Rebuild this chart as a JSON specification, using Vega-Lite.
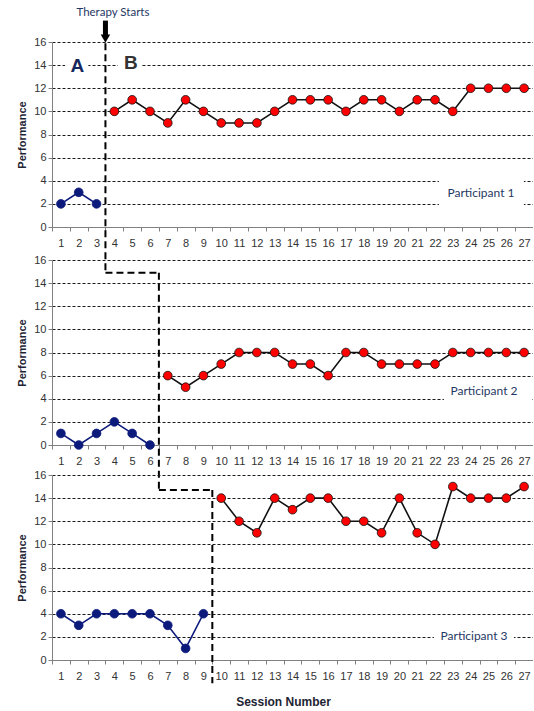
{
  "$schema": "https://vega.github.io/schema/vega-lite/v6.json",
  "padding": {"left": 16, "top": 6, "right": 0, "bottom": 0},
  "background": "white",
  "config": {
    "view": {"stroke": null},
    "font": "Liberation Sans",
    "axis": {
      "labelFont": "Liberation Sans", "labelFontSize": 11, "labelColor": "#333333",
      "titleFont": "Liberation Sans", "titleFontSize": 11, "titleFontWeight": "bold", "titleColor": "#1e2433",
      "domainColor": "#808080", "tickColor": "#808080", "tickSize": 4, "zindex": 0
    }
  },
  "datasets": {
    "p1": [
      {"session":1,"value":2,"phase":"A"},{"session":2,"value":3,"phase":"A"},{"session":3,"value":2,"phase":"A"},
      {"session":4,"value":10,"phase":"B"},{"session":5,"value":11,"phase":"B"},{"session":6,"value":10,"phase":"B"},
      {"session":7,"value":9,"phase":"B"},{"session":8,"value":11,"phase":"B"},{"session":9,"value":10,"phase":"B"},
      {"session":10,"value":9,"phase":"B"},{"session":11,"value":9,"phase":"B"},{"session":12,"value":9,"phase":"B"},
      {"session":13,"value":10,"phase":"B"},{"session":14,"value":11,"phase":"B"},{"session":15,"value":11,"phase":"B"},
      {"session":16,"value":11,"phase":"B"},{"session":17,"value":10,"phase":"B"},{"session":18,"value":11,"phase":"B"},
      {"session":19,"value":11,"phase":"B"},{"session":20,"value":10,"phase":"B"},{"session":21,"value":11,"phase":"B"},
      {"session":22,"value":11,"phase":"B"},{"session":23,"value":10,"phase":"B"},{"session":24,"value":12,"phase":"B"},
      {"session":25,"value":12,"phase":"B"},{"session":26,"value":12,"phase":"B"},{"session":27,"value":12,"phase":"B"}
    ],
    "p2": [
      {"session":1,"value":1,"phase":"A"},{"session":2,"value":0,"phase":"A"},{"session":3,"value":1,"phase":"A"},
      {"session":4,"value":2,"phase":"A"},{"session":5,"value":1,"phase":"A"},{"session":6,"value":0,"phase":"A"},
      {"session":7,"value":6,"phase":"B"},{"session":8,"value":5,"phase":"B"},{"session":9,"value":6,"phase":"B"},
      {"session":10,"value":7,"phase":"B"},{"session":11,"value":8,"phase":"B"},{"session":12,"value":8,"phase":"B"},
      {"session":13,"value":8,"phase":"B"},{"session":14,"value":7,"phase":"B"},{"session":15,"value":7,"phase":"B"},
      {"session":16,"value":6,"phase":"B"},{"session":17,"value":8,"phase":"B"},{"session":18,"value":8,"phase":"B"},
      {"session":19,"value":7,"phase":"B"},{"session":20,"value":7,"phase":"B"},{"session":21,"value":7,"phase":"B"},
      {"session":22,"value":7,"phase":"B"},{"session":23,"value":8,"phase":"B"},{"session":24,"value":8,"phase":"B"},
      {"session":25,"value":8,"phase":"B"},{"session":26,"value":8,"phase":"B"},{"session":27,"value":8,"phase":"B"}
    ],
    "p3": [
      {"session":1,"value":4,"phase":"A"},{"session":2,"value":3,"phase":"A"},{"session":3,"value":4,"phase":"A"},
      {"session":4,"value":4,"phase":"A"},{"session":5,"value":4,"phase":"A"},{"session":6,"value":4,"phase":"A"},
      {"session":7,"value":3,"phase":"A"},{"session":8,"value":1,"phase":"A"},{"session":9,"value":4,"phase":"A"},
      {"session":10,"value":14,"phase":"B"},{"session":11,"value":12,"phase":"B"},{"session":12,"value":11,"phase":"B"},
      {"session":13,"value":14,"phase":"B"},{"session":14,"value":13,"phase":"B"},{"session":15,"value":14,"phase":"B"},
      {"session":16,"value":14,"phase":"B"},{"session":17,"value":12,"phase":"B"},{"session":18,"value":12,"phase":"B"},
      {"session":19,"value":11,"phase":"B"},{"session":20,"value":14,"phase":"B"},{"session":21,"value":11,"phase":"B"},
      {"session":22,"value":10,"phase":"B"},{"session":23,"value":15,"phase":"B"},{"session":24,"value":14,"phase":"B"},
      {"session":25,"value":14,"phase":"B"},{"session":26,"value":14,"phase":"B"},{"session":27,"value":15,"phase":"B"}
    ]
  },
  "bounds": "flush",
  "spacing": 33,
  "vconcat": [
    {
      "width": 481, "height": 185,
      "data": {"name": "p1"},
      "encoding": {
        "x": {"field": "session", "type": "quantitative", "scale": {"domain": [0.5, 27.5], "nice": false, "zero": false},
              "axis": {"values": [1,2,3,4,5,6,7,8,9,10,11,12,13,14,15,16,17,18,19,20,21,22,23,24,25,26,27], "tickOffset": -8.907, "labelOffset": 8.907, "grid": false, "title": null, "labelOverlap": false, "labelFlush": false, "labelPadding": 6}},
        "y": {"field": "value", "type": "quantitative", "scale": {"domain": [0, 16], "nice": false},
              "axis": {"values": [0,2,4,6,8,10,12,14,16], "title": "Performance", "grid": true, "gridDash": [3,2], "gridColor": "#1a1a1a", "labelPadding": 2, "titlePadding": 6}}
      },
      "layer": [
        {"data": {"values": [{"session": 22.22, "session2": 26.99, "value": 4.3, "value2": 1.54}, {"session": 1.24, "session2": 2.54, "value": 14.68, "value2": 13.12}, {"session": 4.2, "session2": 5.55, "value": 14.9, "value2": 13.4}]},
         "mark": {"type": "rect", "fill": "white"},
         "encoding": {"x2": {"field": "session2"}, "y2": {"field": "value2"}}},
        {"data": {"values": [{"session": 3.5, "session2": 3.5, "value": 15.9, "value2": -3.95}]},
         "mark": {"type": "rule", "stroke": "black", "strokeWidth": 2, "strokeDash": [7, 4]},
         "encoding": {"x2": {"field": "session2"}, "y2": {"field": "value2"}}},
        {"mark": {"type": "line", "strokeWidth": 1.6},
         "encoding": {"detail": {"field": "phase"}, "stroke": {"field": "phase", "scale": {"domain": ["A", "B"], "range": ["#0c1a7c", "#111111"]}, "legend": null}}},
        {"mark": {"type": "point", "filled": true, "size": 76, "opacity": 1, "strokeWidth": 0.8, "shape": "circle"},
         "encoding": {"fill": {"field": "phase", "scale": {"domain": ["A", "B"], "range": ["#0c1a7c", "#ff0000"]}, "legend": null},
                      "stroke": {"field": "phase", "legend": null}}},
        {"data": {"values": [{"session": 24.58, "value": 2.91, "label": "Participant 1"}]},
         "mark": {"type": "text", "font": "Lato", "fontSize": 12, "fill": "#1f3864"},
         "encoding": {"text": {"field": "label"}}},
        {"data": {"values": [{"session": 1.92, "value": 13.92, "label": "A"}]},
         "mark": {"type": "text", "font": "Liberation Sans", "fontSize": 19, "fontWeight": "bold", "fill": "#15275c"},
         "encoding": {"text": {"field": "label"}}},
        {"data": {"values": [{"session": 4.93, "value": 14.22, "label": "B"}]},
         "mark": {"type": "text", "font": "Liberation Sans", "fontSize": 19, "fontWeight": "bold", "fill": "#333333"},
         "encoding": {"text": {"field": "label"}}},
        {"data": {"values": [{"session": 3.92, "value": 18.54, "label": "Therapy Starts"}]},
         "mark": {"type": "text", "font": "Lato", "fontSize": 11.5, "fill": "#1f3864"},
         "encoding": {"text": {"field": "label"}}},
        {"data": {"values": [{"session": 3.5, "value": 17.85, "value2": 16.5}]},
         "mark": {"type": "rule", "stroke": "black", "strokeWidth": 5},
         "encoding": {"y2": {"field": "value2"}}},
        {"data": {"values": [{"session": 3.5, "value": 16.3}]},
         "mark": {"type": "point", "shape": "triangle-down", "filled": true, "fill": "black", "size": 90, "opacity": 1}}
      ]
    },
    {
      "bounds": "flush",
      "spacing": 30,
      "vconcat": [
        {
          "width": 481, "height": 185,
          "data": {"name": "p2"},
          "encoding": {
            "x": {"field": "session", "type": "quantitative", "scale": {"domain": [0.5, 27.5], "nice": false, "zero": false},
                  "axis": {"values": [1,2,3,4,5,6,7,8,9,10,11,12,13,14,15,16,17,18,19,20,21,22,23,24,25,26,27], "tickOffset": -8.907, "labelOffset": 8.907, "grid": false, "title": null, "labelOverlap": false, "labelFlush": false, "labelPadding": 6}},
            "y": {"field": "value", "type": "quantitative", "scale": {"domain": [0, 16], "nice": false},
                  "axis": {"values": [0,2,4,6,8,10,12,14,16], "title": "Performance", "grid": true, "gridDash": [3,2], "gridColor": "#1a1a1a", "labelPadding": 2, "titlePadding": 6}}
          },
          "layer": [
            {"data": {"values": [{"session": 22.5, "session2": 27.4, "value": 5.51, "value2": 2.74}]},
             "mark": {"type": "rect", "fill": "white"},
             "encoding": {"x2": {"field": "session2"}, "y2": {"field": "value2"}}},
            {"data": {"values": [{"session": 3.5, "session2": 6.5, "value": 14.9, "value2": 14.9}, {"session": 6.5, "session2": 6.5, "value": 14.9, "value2": -3.89}]},
             "mark": {"type": "rule", "stroke": "black", "strokeWidth": 2, "strokeDash": [7, 4]},
             "encoding": {"x2": {"field": "session2"}, "y2": {"field": "value2"}}},
            {"mark": {"type": "line", "strokeWidth": 1.6},
             "encoding": {"detail": {"field": "phase"}, "stroke": {"field": "phase", "scale": {"domain": ["A", "B"], "range": ["#0c1a7c", "#111111"]}, "legend": null}}},
            {"mark": {"type": "point", "filled": true, "size": 76, "opacity": 1, "strokeWidth": 0.8, "shape": "circle"},
             "encoding": {"fill": {"field": "phase", "scale": {"domain": ["A", "B"], "range": ["#0c1a7c", "#ff0000"]}, "legend": null},
                          "stroke": {"field": "phase", "legend": null}}},
            {"data": {"values": [{"session": 24.75, "value": 4.67, "label": "Participant 2"}]},
             "mark": {"type": "text", "font": "Lato", "fontSize": 12, "fill": "#1f3864"},
             "encoding": {"text": {"field": "label"}}}
          ]
        },
        {
          "width": 481, "height": 185,
          "data": {"name": "p3"},
          "encoding": {
            "x": {"field": "session", "type": "quantitative", "scale": {"domain": [0.5, 27.5], "nice": false, "zero": false},
                  "axis": {"values": [1,2,3,4,5,6,7,8,9,10,11,12,13,14,15,16,17,18,19,20,21,22,23,24,25,26,27], "tickOffset": -8.907, "labelOffset": 8.907, "grid": false, "title": "Session Number", "titleFontSize": 12, "titleX": 231, "titlePadding": 15, "labelOverlap": false, "labelFlush": false, "labelPadding": 6}},
            "y": {"field": "value", "type": "quantitative", "scale": {"domain": [0, 16], "nice": false},
                  "axis": {"values": [0,2,4,6,8,10,12,14,16], "title": "Performance", "grid": true, "gridDash": [3,2], "gridColor": "#1a1a1a", "labelPadding": 2, "titlePadding": 6}}
          },
          "layer": [
            {"data": {"values": [{"session": 21.94, "session2": 26.43, "value": 3.17, "value2": 0.83}]},
             "mark": {"type": "rect", "fill": "white"},
             "encoding": {"x2": {"field": "session2"}, "y2": {"field": "value2"}}},
            {"data": {"values": [{"session": 6.5, "session2": 9.5, "value": 14.7, "value2": 14.7}, {"session": 9.5, "session2": 9.5, "value": 14.7, "value2": -2.0}]},
             "mark": {"type": "rule", "stroke": "black", "strokeWidth": 2, "strokeDash": [7, 4]},
             "encoding": {"x2": {"field": "session2"}, "y2": {"field": "value2"}}},
            {"mark": {"type": "line", "strokeWidth": 1.6},
             "encoding": {"detail": {"field": "phase"}, "stroke": {"field": "phase", "scale": {"domain": ["A", "B"], "range": ["#0c1a7c", "#111111"]}, "legend": null}}},
            {"mark": {"type": "point", "filled": true, "size": 76, "opacity": 1, "strokeWidth": 0.8, "shape": "circle"},
             "encoding": {"fill": {"field": "phase", "scale": {"domain": ["A", "B"], "range": ["#0c1a7c", "#ff0000"]}, "legend": null},
                          "stroke": {"field": "phase", "legend": null}}},
            {"data": {"values": [{"session": 24.19, "value": 2.05, "label": "Participant 3"}]},
             "mark": {"type": "text", "font": "Lato", "fontSize": 12, "fill": "#1f3864"},
             "encoding": {"text": {"field": "label"}}}
          ]
        }
      ]
    }
  ]
}
